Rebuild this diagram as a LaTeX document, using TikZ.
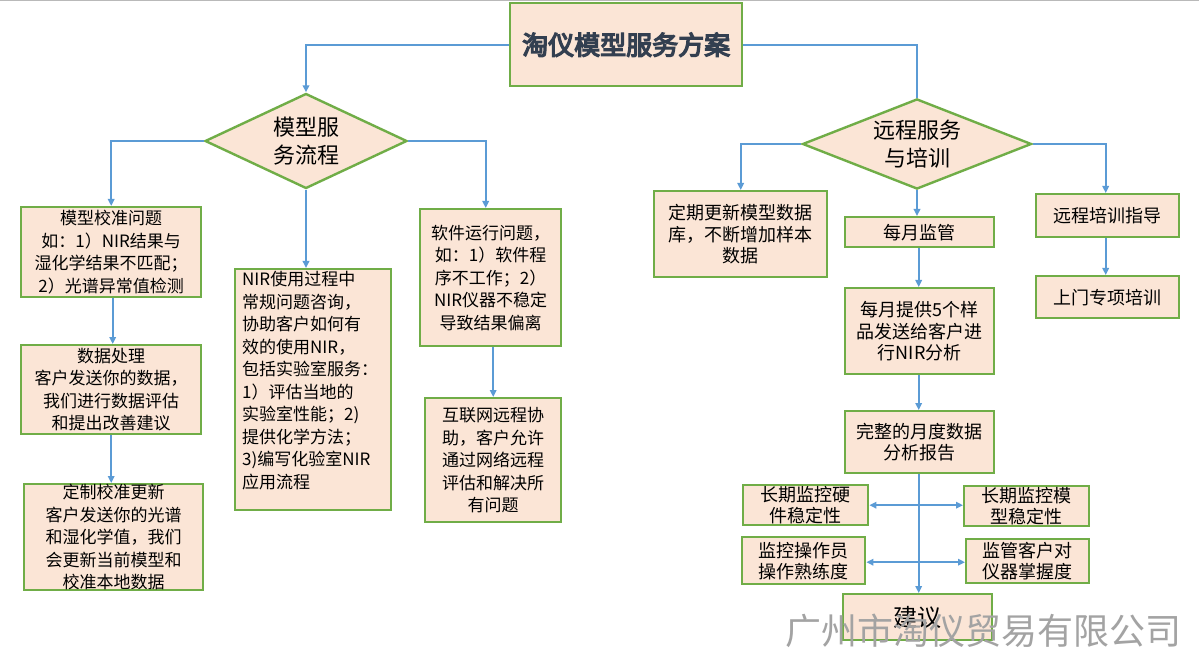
\documentclass[tikz,border=0pt]{standalone}
\usepackage{fontspec}
\usetikzlibrary{shapes.geometric,arrows.meta}
\newfontfamily\cjk{Noto Sans CJK SC}
\newfontfamily\cjkbold{Noto Sans CJK SC}[FakeBold=5]
\definecolor{boxfill}{HTML}{FBE5D6}
\definecolor{boxgreen}{HTML}{70AD47}
\definecolor{linkblue}{HTML}{5B9BD5}
\definecolor{titletext}{HTML}{333F50}
\definecolor{wmgray}{HTML}{A3A3A3}
\tikzset{
  box/.style={draw=boxgreen, fill=boxfill, line width=2.4pt, inner sep=0pt,
    align=center, anchor=north west, font=\cjk\fontsize{17}{22.5}\selectfont},
  rbox/.style={box, font=\cjk\fontsize{18}{21.5}\selectfont},
  sbox/.style={box, font=\cjk\fontsize{18}{21}\selectfont},
  diam/.style={shape=diamond, draw=boxgreen, fill=boxfill, line width=2.4pt,
    inner sep=0pt, aspect=2.1, align=center, font=\cjk\fontsize{22}{28}\selectfont},
  conn/.style={draw=linkblue, line width=1.8pt, -{Triangle[length=7pt,width=6.5pt]}},
  plainconn/.style={draw=linkblue, line width=1.8pt},
  dconn/.style={draw=linkblue, line width=1.8pt, {Triangle[length=7pt,width=6.5pt]}-{Triangle[length=7pt,width=6.5pt]}},
}
\begin{document}
\begin{tikzpicture}[x=1pt,y=-1pt]
\useasboundingbox (0,0) rectangle (1199,660);
\fill[white] (0,0) rectangle (1199,660);
\draw[gray!55, line width=1.5pt] (0,0.75) -- (1199,0.75);

% title
\node[box, minimum width=232, minimum height=83, font=\cjkbold\fontsize{26}{30}\selectfont, text=titletext] (title) at (509,2) {淘仪模型服务方案};

% diamonds
\node[diam, minimum width=202, minimum height=95] (dl) at (306,141) {模型服\\务流程};
\node[diam, minimum width=229, minimum height=89] (dr) at (917,144) {远程服务\\与培训};

% left column boxes
\node[box, minimum width=180, minimum height=90] (b1) at (20,206)
  {模型校准问题\\如：1）NIR结果与\\湿化学结果不匹配；\\2）光谱异常值检测};
\node[box, minimum width=180, minimum height=89] (b2) at (20,344)
  {数据处理\\客户发送你的数据，\\我们进行数据评估\\和提出改善建议};
\node[box, minimum width=179, minimum height=100] (b3) at (23,483)
  {定制校准更新\\客户发送你的光谱\\和湿化学值，我们\\会更新当前模型和\\校准本地数据};

\node[box, minimum width=156, minimum height=241] (nir) at (234,268)
  {\parbox[c][237pt][t]{142pt}{\raggedright NIR使用过程中\\常规问题咨询，\\协助客户如何有\\效的使用NIR，\\包括实验室服务：\\1）评估当地的\\实验室性能；2)\\提供化学方法；\\3)编写化验室NIR\\应用流程}};

\node[box, minimum width=141, minimum height=137] (sw) at (419,208)
  {软件运行问题，\\如：1）软件程\\序不工作；2）\\NIR仪器不稳定\\导致结果偏离};
\node[box, minimum width=136, minimum height=124] (net) at (424,397)
  {互联网远程协\\助，客户允许\\通过网络远程\\评估和解决所\\有问题};

% right side boxes
\node[rbox, minimum width=173, minimum height=86] (dq) at (653,190)
  {定期更新模型数据\\库，不断增加样本\\数据};
\node[rbox, minimum width=149, minimum height=30] (mm) at (844,216) {每月监管};
\node[rbox, minimum width=149, minimum height=86] (m5) at (844,287)
  {每月提供5个样\\品发送给客户进\\行NIR分析};
\node[rbox, minimum width=149, minimum height=62] (rep) at (844,410)
  {完整的月度数据\\分析报告};
\node[box, minimum width=149, minimum height=46, font=\cjk\fontsize{24}{28}\selectfont] (sug) at (842,593) {建议};

\node[sbox, minimum width=125, minimum height=40] (hw) at (742,484) {长期监控硬\\件稳定性};
\node[sbox, minimum width=125, minimum height=40] (mw) at (963,485) {长期监控模\\型稳定性};
\node[sbox, minimum width=123, minimum height=47] (op) at (741,536) {监控操作员\\操作熟练度};
\node[sbox, minimum width=123, minimum height=44] (cu) at (965,538) {监管客户对\\仪器掌握度};

\node[rbox, minimum width=143, minimum height=43] (rt) at (1035,193) {远程培训指导};
\node[rbox, minimum width=143, minimum height=42] (up) at (1035,275) {上门专项培训};

% connectors
\draw[conn] (title.west) -| (dl.north);
\draw[plainconn] (title.east) -| (dr.north);
\draw[conn] (dl.west) -| (b1.north);
\draw[conn] (dl.south) -- (dl.south |- nir.north);
\draw[conn] (dl.east) -| ([xshift=-5pt]sw.north);
\draw[conn] ([xshift=1.5pt]b1.south) -- ([xshift=1.5pt]b1.south |- b2.north);
\draw[conn] (b2.south) -- (b2.south |- b3.north);
\draw[conn] (net.north |- sw.south) -- (net.north);

\draw[conn] (dr.west) -| (dq.north);
\draw[conn] (dr.south) -- (dr.south |- mm.north);
\draw[conn] (dr.east) -| ([xshift=-2pt]rt.north);
\draw[conn] ([xshift=-2pt]rt.south) -- ([xshift=-2pt]up.north);
\draw[conn] ([xshift=-1pt]mm.south) -- ([xshift=-1pt]m5.north);
\draw[conn] ([xshift=-1pt]m5.south) -- ([xshift=-1pt]rep.north);
\draw[conn] ([xshift=-1pt]rep.south) -- ([xshift=-1pt]rep.south |- sug.north);
\draw[dconn] (hw.east) -- (hw.east -| mw.west);
\draw[dconn] ([yshift=-1.5pt]op.east) -- ([yshift=-1.5pt]op.east -| cu.west);

% watermark
\node[anchor=west, inner sep=0pt, text=wmgray, font=\cjk\fontsize{36}{40}\selectfont] (wm) at (785,631) {广州市淘仪贸易有限公司};
\end{tikzpicture}
\end{document}
